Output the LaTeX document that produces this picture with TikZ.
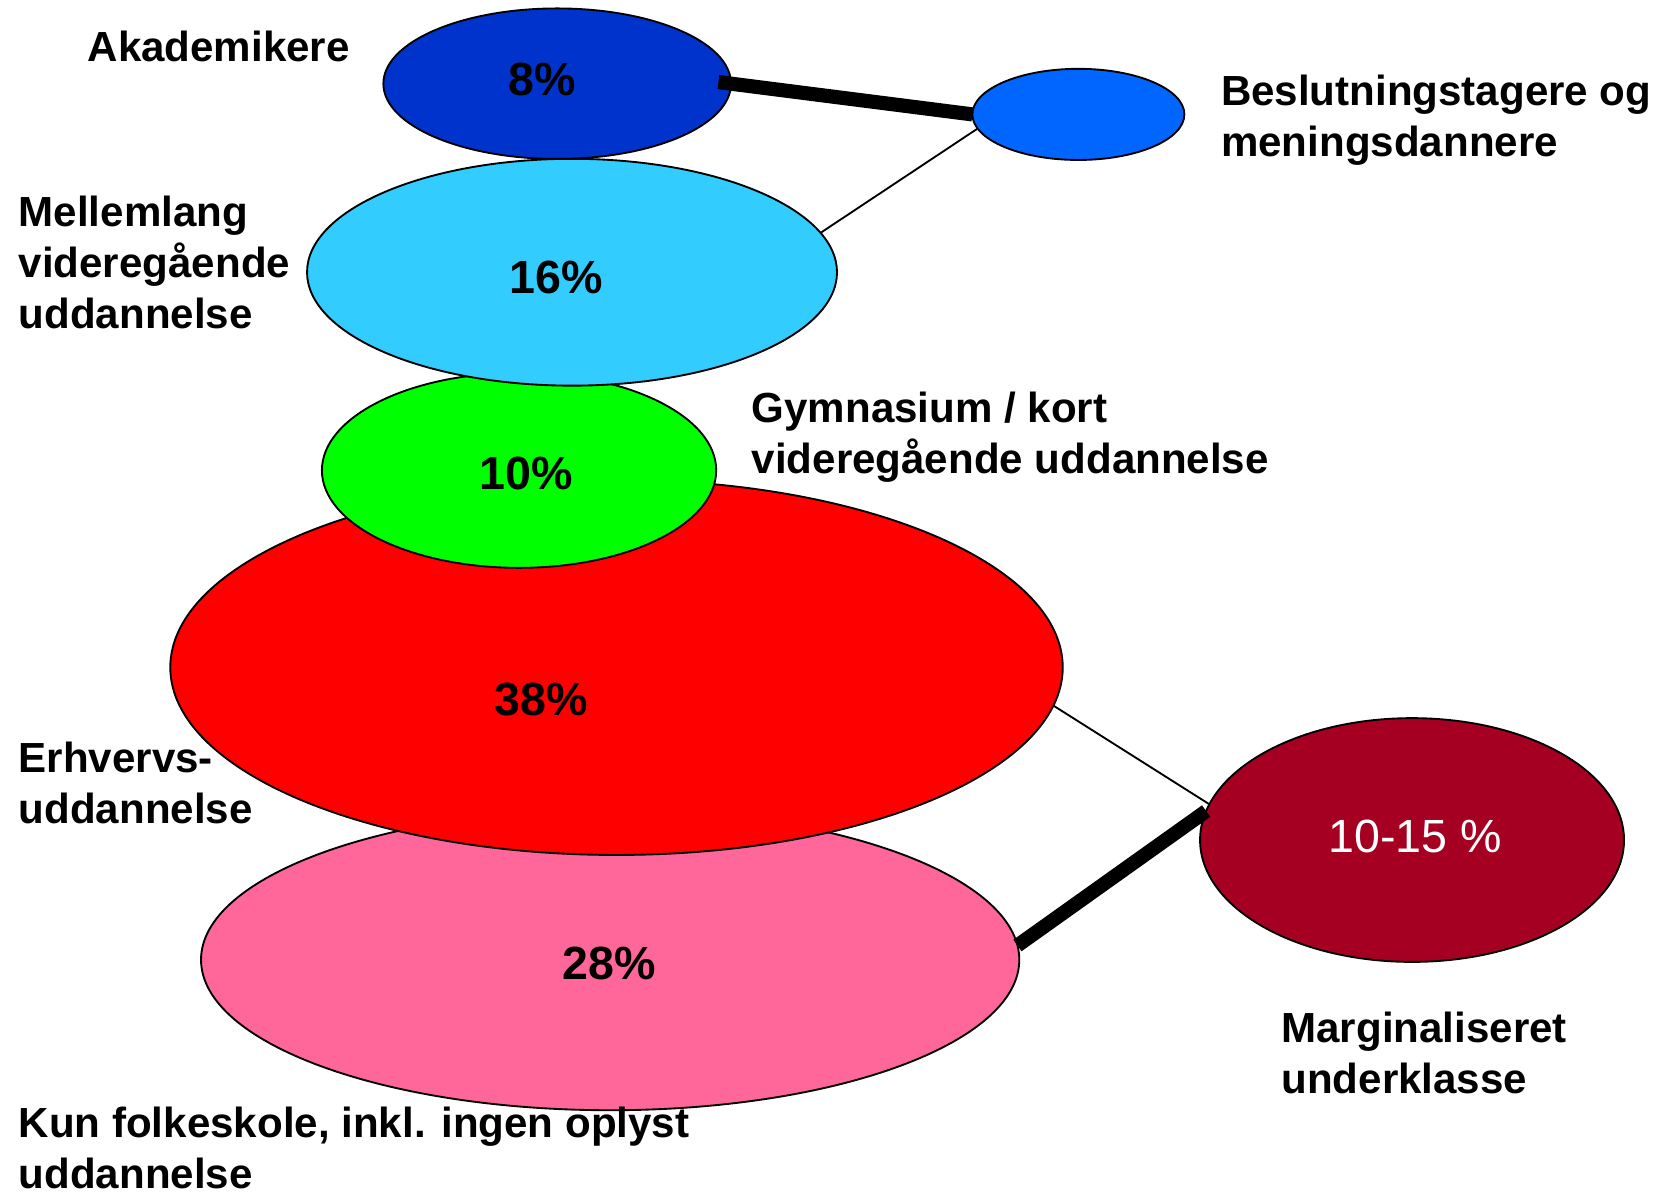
\documentclass[tikz,border=0pt]{standalone}
\usepackage{fontspec}
\setmainfont{Liberation Sans}
\usepackage{tikz}
\usetikzlibrary{shapes,positioning}
\definecolor{akblue}{RGB}{0,51,204}
\definecolor{beslblue}{RGB}{0,102,255}
\definecolor{melblue}{RGB}{51,204,255}
\definecolor{gymgreen}{RGB}{0,255,0}
\definecolor{erhred}{RGB}{255,0,0}
\definecolor{kunpink}{RGB}{255,102,153}
\definecolor{margred}{RGB}{165,0,33}
\begin{document}
\begin{tikzpicture}[x=0.01cm, y=-0.01cm,
    blob/.style={ellipse, draw, line width=0.5pt, inner sep=0pt, outer sep=0pt},
    pct/.style={font=\fontsize{12.5}{15}\selectfont\bfseries, inner sep=0pt},
    lbl/.style={font=\fontsize{11.3}{13.7}\selectfont\bfseries, align=left, anchor=base west, inner sep=0pt},
    heavy/.style={line width=3.8pt},
    light/.style={line width=0.5pt}]

    \useasboundingbox (0,0) rectangle (1568,1128);

    \node[blob, fill=kunpink, minimum width=7.72cm, minimum height=2.84cm] (kun) at (576,906) {};
    \node[blob, fill=erhred, minimum width=8.42cm, minimum height=3.54cm] (erh) at (582,630) {};
    \node[blob, fill=gymgreen, minimum width=3.72cm, minimum height=1.84cm] (gym) at (490,444) {};
    \node[blob, fill=melblue, minimum width=5.00cm, minimum height=2.14cm] (mel) at (540,257) {};
    \node[blob, fill=akblue, minimum width=3.28cm, minimum height=1.42cm] (aka) at (526,79) {};
    \node[blob, fill=beslblue, minimum width=2.00cm, minimum height=0.86cm] (besl) at (1018,108) {};
    \node[blob, fill=margred, minimum width=4.00cm, minimum height=2.30cm] (marg) at (1333,793) {};

    \node[pct] (p8) at (512,75) {8\%};
    \node[pct] (p16) at (525,262) {16\%};
    \node[pct] (p10) at (497,447) {10\%};
    \node[pct] (p38) at (511,660) {38\%};
    \node[pct] (p28) at (575,910) {28\%};
    \node[pct, font=\fontsize{12.5}{15}\selectfont, text=white] (p1015) at (1336,790) {10-15 \%};

    % labels: base west sits on the last line
    \node[lbl] (akalbl) at (82,58) {Akademikere};
    \node[lbl] (besllbl) at (1152,148) {Beslutningstagere og\\meningsdannere};
    \node[lbl] (mellbl) at (17,310) {Mellemlang\\videregående\\uddannelse};
    \node[lbl] (gymlbl) at (709,447) {Gymnasium / kort\\videregående uddannelse};
    \node[lbl] (erhlbl) at (17,777) {Erhvervs-\\uddannelse};
    \node[lbl] (kunlbl) at (17,1122) {Kun folkeskole, inkl. ingen oplyst\\uddannelse};
    \node[lbl] (marglbl) at (1209,1032) {Marginaliseret\\underklasse};

    \draw[heavy, shorten <=-0.12cm] (aka.east) -- (besl.west);
    \draw[light] (besl.188) -- (mel.9);
    \draw[light] (erh.-5) -- (marg.170);
    \draw[heavy] (kun.2) -- (marg.172);
\end{tikzpicture}
\end{document}
